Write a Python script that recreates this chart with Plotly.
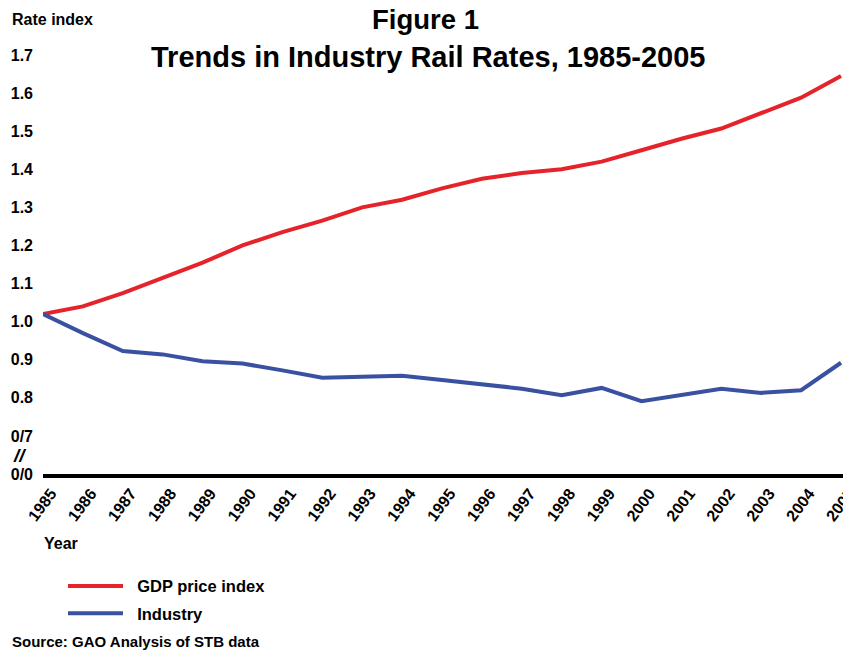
import plotly.graph_objects as go

years = list(range(1985, 2006))
gdp_price_index = [1.02, 1.04, 1.075, 1.115, 1.155, 1.20, 1.235, 1.265, 1.30, 1.32,
                   1.35, 1.375, 1.39, 1.40, 1.42, 1.45, 1.48, 1.507, 1.548, 1.588, 1.645]
industry = [1.02, 0.97, 0.923, 0.914, 0.896, 0.89, 0.872, 0.853, 0.855, 0.858,
            0.847, 0.836, 0.824, 0.807, 0.826, 0.791, 0.807, 0.824, 0.813, 0.82, 0.892]
ytick_vals = [0.6, 0.7, 0.8, 0.9, 1.0, 1.1, 1.2, 1.3, 1.4, 1.5, 1.6, 1.7]
ytick_text = ["0/0", "0/7", "0.8", "0.9", "1.0", "1.1", "1.2", "1.3", "1.4", "1.5", "1.6", "1.7"]

FONT = "Liberation Sans, Arial, sans-serif"
RED = "#E5232B"
BLUE = "#3A51A2"
NB = "\u00a0\u00a0"

fig = go.Figure()
fig.add_trace(go.Scatter(x=years, y=gdp_price_index, mode="lines",
                         name=NB + "<b>GDP price index</b>", legendgroup="a",
                         line=dict(color=RED, width=4)))
fig.add_trace(go.Scatter(x=years, y=industry, mode="lines",
                         name=NB + "<b>Industry</b>", legendgroup="b",
                         line=dict(color=BLUE, width=4)))

fig.update_layout(
    width=843, height=651,
    margin=dict(l=43, r=0, t=55, b=177, autoexpand=False),
    paper_bgcolor="white", plot_bgcolor="white",
    font=dict(family=FONT, color="black"),
    xaxis=dict(range=[1985, 2005.05], tickmode="array", tickvals=years,
               ticktext=[f"<b>{y}</b>" for y in years], tickangle=-53,
               tickfont=dict(size=16, family=FONT, color="black"),
               ticklabelshift=8, ticklabeloverflow="allow", automargin=False,
               showgrid=False, zeroline=False, showline=True, linecolor="black",
               linewidth=4, ticks=""),
    yaxis=dict(range=[0.6, 1.7], tickmode="array", tickvals=ytick_vals,
               ticktext=[f"<b>{t}</b>" for t in ytick_text],
               tickfont=dict(size=16, family=FONT, color="black"),
               ticklabelstandoff=9, automargin=False,
               showgrid=False, zeroline=False, showline=False, ticks=""),
    legend=dict(x=0.025, y=-0.226, xanchor="left", yanchor="top",
                font=dict(size=16.5, family=FONT, color="black"),
                itemwidth=55, tracegroupgap=3, bgcolor="rgba(0,0,0,0)"),
    showlegend=True,
)

fig.add_annotation(text="<b>Figure 1</b>", xref="paper", yref="paper",
                   x=(425 - 43) / 800, y=1 + (55 - 20) / 419, xanchor="center", yanchor="middle",
                   showarrow=False, font=dict(size=27.5, family=FONT, color="black"))
fig.add_annotation(text="<b>Trends in Industry Rail Rates, 1985-2005</b>", xref="paper", yref="paper",
                   x=(428 - 43) / 800, y=1 + (55 - 57) / 419, xanchor="center", yanchor="middle",
                   showarrow=False, font=dict(size=29, family=FONT, color="black"))
fig.add_annotation(text="<b>Rate index</b>", xref="paper", yref="paper",
                   x=-0.041, y=1 + (55 - 20) / 419, xanchor="left", yanchor="middle", showarrow=False,
                   font=dict(size=16, family=FONT, color="black"))
fig.add_annotation(text="<b><i>//</i></b>", xref="paper", yref="y",
                   x=-0.029, y=0.648, xanchor="center", yanchor="middle", showarrow=False,
                   font=dict(size=19, family=FONT, color="black"))
fig.add_annotation(text="<b>Year</b>", xref="paper", yref="paper",
                   x=-0.001, y=-0.165, xanchor="left", yanchor="middle", showarrow=False,
                   font=dict(size=16, family=FONT, color="black"))
fig.add_annotation(text="<b>Source: GAO Analysis of STB data</b>", xref="paper", yref="paper",
                   x=-0.041, y=-(641 - 474) / 419, xanchor="left", yanchor="middle", showarrow=False,
                   font=dict(size=15, family=FONT, color="black"))

fig.write_html("out.html")
